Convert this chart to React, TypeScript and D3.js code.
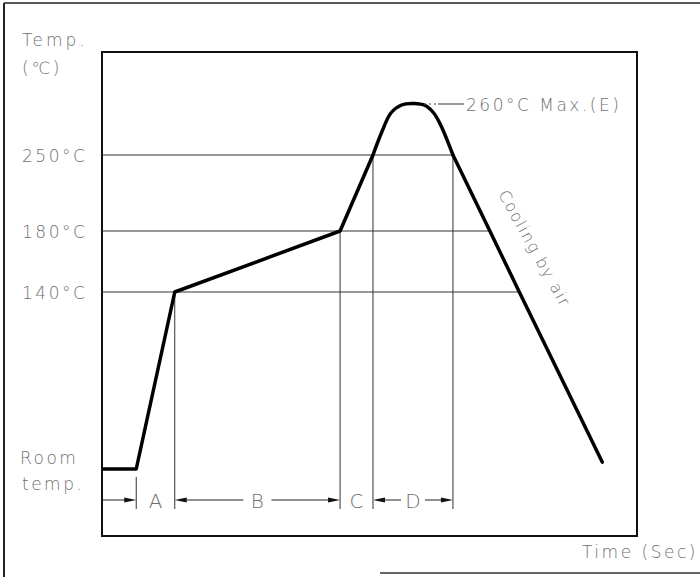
import React from "react";
import * as d3 from "d3";

// ---- data (schematic reflow profile) ----
const profileTimes = [0, 6.4, 13.6, 44.5, 50.65];
const profileTemps = [25, 25, 140, 180, 250];
const peakTimes = [50.65, 52.3, 54.0, 56.0, 58.3, 60.4, 62.0, 63.3, 65.6];
const peakTemps = [250, 254.6, 258.4, 260, 260.3, 259.9, 258.4, 256.0, 250];
const coolTimes = [65.6, 72.5, 78.0, 93.5];
const coolTemps = [250, 180, 140, 29.5];
const guideTemps = [250, 180, 140];
const guideEnds = [65.6, 72.5, 78.0];
const guideLabels = ["250°C", "180°C", "140°C"];
const zoneBounds = [6.4, 13.6, 44.5, 50.65, 65.6];
const zoneTopTemps = [null, 140, 180, 250, 250];
const zoneLabels = ["A", "B", "C", "D"];
const tempDomain = [25, 140, 180, 250, 260];

const W = 700;
const H = 577;
const box = { left: 102, top: 52, right: 637, bottom: 536 };

export default function App() {
  const x = d3.scaleLinear().domain([0, 100]).range([box.left, box.right]);
  const y = d3.scaleLinear().domain(tempDomain).range([469, 292, 231, 155, 105]);

  const lin = d3
    .line<[number, number]>()
    .x((d) => x(d[0]))
    .y((d) => y(d[1]));
  const smooth = d3
    .line<[number, number]>()
    .x((d) => x(d[0]))
    .y((d) => y(d[1]))
    .curve(d3.curveCatmullRom.alpha(0.5));

  const mainPts = profileTimes.map((t, i) => [t, profileTemps[i]] as [number, number]);
  const peakPts = peakTimes.map((t, i) => [t, peakTemps[i]] as [number, number]);
  const coolPts = coolTimes.map((t, i) => [t, coolTemps[i]] as [number, number]);

  const textStyle: React.CSSProperties = {
    fontFamily: "'DejaVu Sans', sans-serif",
    fontWeight: 200,
    fill: "#707070",
  };
  const lineColor = "#333";
  const arrowY = 500;
  const tickBottom = 509;
  const ls = 2.5;

  const arrowHead = (xp: number, dir: number, key: string) => (
    <path
      key={key}
      d={`M${xp},${arrowY} L${xp - dir * 12},${arrowY - 2.5} L${xp - dir * 12},${arrowY + 2.5} Z`}
      fill="#111"
    />
  );

  const bx = zoneBounds.map((t) => x(t));

  return (
    <div style={{ position: "absolute", left: 0, top: 0 }}>
      <svg width={W} height={H} style={{ display: "block", background: "#fff" }}>
        {/* outer frame */}
        <line x1={4} y1={3} x2={700} y2={3} stroke="#222" strokeWidth={1.5} />
        <line x1={4} y1={3} x2={4} y2={577} stroke="#222" strokeWidth={2} />
        <line x1={380} y1={573} x2={700} y2={573} stroke="#333" strokeWidth={1.5} />

        {/* plot box */}
        <rect
          x={box.left}
          y={box.top}
          width={box.right - box.left}
          height={box.bottom - box.top}
          fill="none"
          stroke="#111"
          strokeWidth={2}
        />

        {/* horizontal guide lines */}
        {guideTemps.map((tp, i) => (
          <line
            key={"g" + i}
            x1={box.left}
            x2={x(guideEnds[i])}
            y1={y(tp)}
            y2={y(tp)}
            stroke={lineColor}
            strokeWidth={1}
          />
        ))}

        {/* zone vertical lines */}
        {zoneBounds.map((t, i) => (
          <line
            key={"v" + i}
            x1={x(t)}
            x2={x(t)}
            y1={zoneTopTemps[i] == null ? 477 : y(zoneTopTemps[i] as number)}
            y2={tickBottom}
            stroke={lineColor}
            strokeWidth={1}
          />
        ))}

        {/* dimension arrows */}
        <line x1={box.left} x2={bx[0] - 10} y1={arrowY} y2={arrowY} stroke="#222" strokeWidth={1} />
        {arrowHead(bx[0], 1, "a1")}
        {arrowHead(bx[1], -1, "b1")}
        <line x1={bx[1] + 10} x2={(bx[1] + bx[2]) / 2 - 14} y1={arrowY} y2={arrowY} stroke="#222" strokeWidth={1} />
        <line x1={(bx[1] + bx[2]) / 2 + 14} x2={bx[2] - 10} y1={arrowY} y2={arrowY} stroke="#222" strokeWidth={1} />
        {arrowHead(bx[2], 1, "b2")}
        {arrowHead(bx[3], -1, "d1")}
        <line x1={bx[3] + 10} x2={(bx[3] + bx[4]) / 2 - 12} y1={arrowY} y2={arrowY} stroke="#222" strokeWidth={1} />
        <line x1={(bx[3] + bx[4]) / 2 + 12} x2={bx[4] - 10} y1={arrowY} y2={arrowY} stroke="#222" strokeWidth={1} />
        {arrowHead(bx[4], 1, "d2")}
        {zoneLabels.map((lb, i) => (
          <text
            key={"z" + i}
            x={(bx[i] + bx[i + 1]) / 2}
            y={arrowY + 8}
            textAnchor="middle"
            fontSize={20}
            style={textStyle}
          >
            {lb}
          </text>
        ))}

        {/* profile curve */}
        <path d={lin(mainPts) || ""} fill="none" stroke="#000" strokeWidth={3.5} strokeLinejoin="round" />
        <path d={smooth(peakPts) || ""} fill="none" stroke="#000" strokeWidth={3.5} strokeLinecap="round" />
        <path d={lin(coolPts) || ""} fill="none" stroke="#000" strokeWidth={3.5} strokeLinejoin="round" strokeLinecap="round" />

        {/* peak annotation */}
        <line x1={424} x2={436} y1={104} y2={104} stroke="#444" strokeWidth={1} strokeDasharray="2,3" />
        <line x1={438} x2={464} y1={104} y2={104} stroke="#333" strokeWidth={1} />
        <text x={466} y={111} fontSize={17} letterSpacing={ls} style={textStyle}>
          260°C Max.(E)
        </text>

        {/* cooling label */}
        <text
          transform="translate(498,194) rotate(61)"
          fontSize={16}
          letterSpacing={1.5}
          style={textStyle}
        >
          Cooling by air
        </text>

        {/* y labels */}
        <text x={22} y={46} fontSize={17} letterSpacing={3} style={textStyle}>Temp.</text>
        <text x={22} y={74} fontSize={17} letterSpacing={ls} style={textStyle}>(℃)</text>
        {guideTemps.map((tp, i) => (
          <text key={"l" + i} x={22} y={y(tp) + 7} fontSize={17} letterSpacing={ls} style={textStyle}>
            {guideLabels[i]}
          </text>
        ))}
        <text x={20} y={464} fontSize={17} letterSpacing={ls} style={textStyle}>Room</text>
        <text x={22} y={490} fontSize={17} letterSpacing={ls} style={textStyle}>temp.</text>

        {/* x label */}
        <text x={582} y={558} fontSize={17} letterSpacing={ls} style={textStyle}>Time (Sec)</text>
      </svg>
    </div>
  );
}
